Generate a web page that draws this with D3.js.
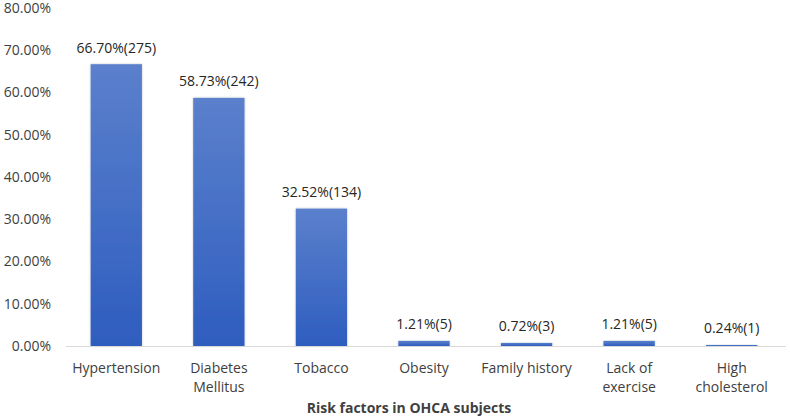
<!DOCTYPE html>
<html>
<head>
<meta charset="utf-8">
<script src="https://cdn.jsdelivr.net/npm/d3@7/dist/d3.min.js"></script>
<style>
  html, body { margin: 0; padding: 0; background: #fff; }
  text { font-family: "Open Sans", "DejaVu Sans", sans-serif; }
</style>
</head>
<body>
<svg id="chart" width="790" height="419"></svg>
<script>
const categories = [["Hypertension"], ["Diabetes", "Mellitus"], ["Tobacco"], ["Obesity"], ["Family history"], ["Lack of", "exercise"], ["High", "cholesterol"]];
const values = [66.70, 58.73, 32.52, 1.21, 0.72, 1.21, 0.24];
const counts = [275, 242, 134, 5, 3, 5, 1];
const yTicks = [0, 10, 20, 30, 40, 50, 60, 70, 80];
const xTitle = "Risk factors in OHCA subjects";

(function () {
const svg = d3.select("#chart");
const plotLeft = 65, plotRight = 783, plotTop = 8, plotBottom = 346;

const x = d3.scaleBand()
  .domain(d3.range(categories.length))
  .range([plotLeft, plotRight])
  .paddingInner(0.5)
  .paddingOuter(0.25);

const y = d3.scaleLinear().domain([0, 80]).range([plotBottom, plotTop]);

const defs = svg.append("defs");
const grad = defs.append("linearGradient")
  .attr("id", "barGrad")
  .attr("x1", 0).attr("y1", 0).attr("x2", 0).attr("y2", 1);
grad.append("stop").attr("offset", "0%").attr("stop-color", "#5b80cc");
grad.append("stop").attr("offset", "100%").attr("stop-color", "#2e5dbf");

const shadow = defs.append("filter").attr("id", "shadow")
  .attr("x", "-20%").attr("y", "-5%").attr("width", "140%").attr("height", "110%");
shadow.append("feDropShadow")
  .attr("dx", 0).attr("dy", 0).attr("stdDeviation", 1.2)
  .attr("flood-color", "#000").attr("flood-opacity", 0.25);

// Y axis labels
const yAxis = d3.axisLeft(y)
  .tickValues(yTicks)
  .tickSize(0)
  .tickPadding(0)
  .tickFormat(d => d.toFixed(2) + "%");
const yg = svg.append("g").attr("transform", "translate(51,0)").call(yAxis);
yg.select(".domain").remove();
yg.selectAll("text")
  .attr("font-size", 14)
  .attr("fill", "#404040")
  .style("font-family", "'Open Sans', sans-serif");

// Bars
svg.append("g").selectAll("rect")
  .data(values)
  .join("rect")
  .attr("x", (d, i) => x(i))
  .attr("y", d => y(d))
  .attr("width", x.bandwidth())
  .attr("height", d => plotBottom - y(d))
  .attr("fill", "url(#barGrad)")
  .attr("filter", "url(#shadow)");

// Baseline
svg.append("line")
  .attr("x1", plotLeft + 1).attr("x2", plotRight + 3)
  .attr("y1", plotBottom + 0.5).attr("y2", plotBottom + 0.5)
  .attr("stroke", "#d9d9d9").attr("stroke-width", 1);

// Value labels
svg.append("g").selectAll("text")
  .data(values)
  .join("text")
  .attr("x", (d, i) => x(i) + x.bandwidth() / 2)
  .attr("y", d => y(d) - 11.5)
  .attr("text-anchor", "middle")
  .attr("font-size", 14)
  .attr("fill", "#262626")
  .text((d, i) => d.toFixed(2) + "%(" + counts[i] + ")");

// Category labels via bottom axis
const xAxis = d3.axisBottom(x).tickSize(0).tickFormat(() => "");
const xg = svg.append("g").attr("transform", `translate(0,${plotBottom})`).call(xAxis);
xg.select(".domain").remove();
xg.selectAll(".tick").each(function(d) {
  const t = d3.select(this).append("text")
    .attr("text-anchor", "middle")
    .attr("font-size", 14)
    .attr("fill", "#404040")
    .style("font-family", "'Open Sans', sans-serif");
  categories[d].forEach((line, j) => {
    t.append("tspan").attr("x", 0).attr("y", 27 + j * 19).text(line);
  });
});

// X title
svg.append("text")
  .attr("x", 409)
  .attr("y", 413)
  .attr("text-anchor", "middle")
  .attr("font-size", 14)
  .attr("font-weight", "bold")
  .attr("fill", "#404040")
  .text(xTitle);
})();
</script>
</body>
</html>
